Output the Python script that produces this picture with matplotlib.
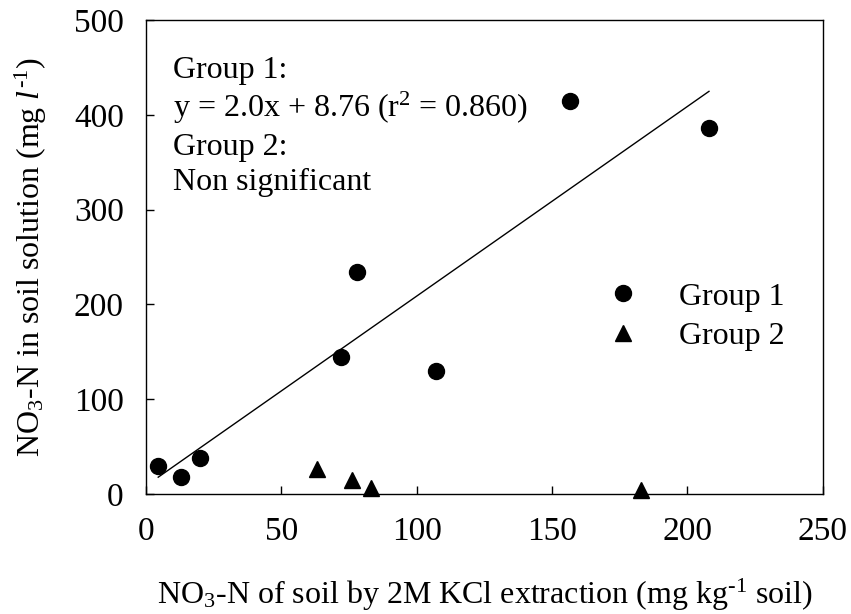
import matplotlib
matplotlib.use('Agg')
import matplotlib.pyplot as plt
import numpy as np

plt.rcParams['font.family'] = ['Liberation Serif', 'DejaVu Serif']
plt.rcParams['mathtext.fontset'] = 'custom'
plt.rcParams['mathtext.rm'] = 'Liberation Serif'
plt.rcParams['mathtext.it'] = 'Liberation Serif:italic'

# group 1 points (fitted)
g1_x = [4.5, 13, 20, 72, 78, 107, 156.5, 208]
g1_y = [30, 18, 38, 145, 234, 130, 415, 386]
# group 2 points (no significant fit)
g2_x = [63, 76, 83, 183]
g2_y = [26, 15, 6, 4]

slope, intercept = 2.0, 8.76

fig = plt.figure(figsize=(8.51, 6.14), dpi=100)
ax = fig.add_axes([0.1716, 0.1954, 0.7951, 0.772])

ax.plot(g1_x, g1_y, 'o', color='black', markersize=11.5, label='Group 1', clip_on=False, zorder=3)
ax.plot(g2_x, g2_y, '^', color='black', markersize=11.5, label='Group 2', clip_on=False, zorder=3)

fx = np.array([min(g1_x), max(g1_x)])
ax.plot(fx, slope * fx + intercept, color='black', linewidth=1)

ax.set_xlim(0, 250)
ax.set_ylim(0, 500)
ax.set_xticks([0, 50, 100, 150, 200, 250])
ax.set_yticks([0, 100, 200, 300, 400, 500])
ax.tick_params(direction='in', length=6, width=1, labelsize=24)
ax.tick_params(axis='x', pad=16)
ax.tick_params(axis='y', pad=16)
for s in ax.spines.values():
    s.set_linewidth(1)

ax.set_xlabel(r'NO$_3$-N of soil by 2M KCl extraction (mg kg$^{\text{-}1}$ soil)', fontsize=23)
ax.xaxis.set_label_coords(0.5, -0.175)
ax.set_ylabel(r'NO$_3$-N in soil solution (mg $l^{\text{-}1}$)', fontsize=23)
ax.yaxis.set_label_coords(-0.143, 0.5)

lines = ['Group 1:', 'y = 2.0x + 8.76 (r$^2$ = 0.860)', 'Group 2:', 'Non significant']
baselines = [78, 117, 155, 190]
for t, b in zip(lines, baselines):
    ax.text(0.04, (494 - b) / 474, t, transform=ax.transAxes, fontsize=23, va='baseline')

ax.legend(loc='center left', bbox_to_anchor=(0.627, 0.374), frameon=False, fontsize=23,
          handletextpad=1.0, labelspacing=0.32, handlelength=1.5)

fig.savefig('out.png', dpi=100)
